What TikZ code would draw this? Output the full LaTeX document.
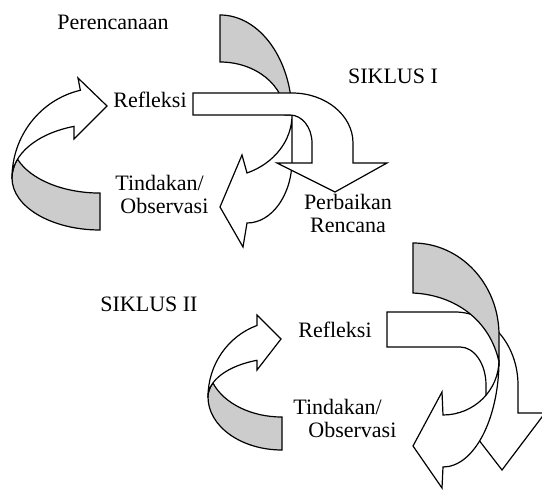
\documentclass[tikz,border=0pt]{standalone}
\usepackage{fontspec}
\setmainfont{Liberation Serif}
\usepackage{tikz}
\usetikzlibrary{positioning}
\definecolor{abu}{RGB}{204,204,204}

\tikzset{
  ribbon/.style={draw=black, line width=0.6pt, fill=white, line join=miter},
  backside/.style={ribbon, fill=abu},
  lbl/.style={font=\fontsize{11}{11.5}\selectfont, inner sep=0pt}
}

\begin{document}
\begin{tikzpicture}[x=0.5pt, y=-0.5pt]

    \useasboundingbox (0,0) rectangle (542,491);
    \clip (0,0) rectangle (542,491);

    % Siklus I : panah kiri (menuju Refleksi)
    \draw[backside] (100,230) arc[start angle=90, end angle=180, x radius=88, y radius=52]
        arc[start angle=180, end angle=200.4, x radius=88, y radius=54]
        arc[start angle=159.6, end angle=90, x radius=88, y radius=52] -- cycle;
    \draw[ribbon] (12,178) arc[start angle=180, end angle=257.1, x radius=88, y radius=90]
        -- (78,78) -- (107,106) -- (74,139) -- (74,126.4)
        arc[start angle=252.8, end angle=180, x radius=88, y radius=54] -- cycle;

    % Siklus I : panah Perencanaan -> Tindakan
    \draw[backside] (220,15) arc[start angle=270, end angle=360, x radius=72, y radius=100]
        -- (285,115) arc[start angle=0, end angle=-90, x radius=65, y radius=53] -- cycle;
    \draw[ribbon] (292,115) -- (292,160) arc[start angle=0, end angle=90, x radius=45, y radius=63]
        -- (243,247) -- (220,207) -- (242,155) -- (247,173)
        arc[start angle=68, end angle=0, x radius=72, y radius=62.6] -- cycle;

    % Siklus I : panah Refleksi -> Perbaikan Rencana
    \draw[ribbon] (193,93) -- (292,93) arc[start angle=270, end angle=360, x radius=61, y radius=50]
        -- (353,163) -- (387,163) -- (335,192) -- (277,163) -- (312,163) -- (312,143)
        arc[start angle=0, end angle=-90, x radius=22, y radius=28] -- (193,115) -- cycle;

    % Siklus II : panah kiri (menuju Refleksi)
    \draw[backside] (282,450) arc[start angle=90, end angle=180, x radius=74, y radius=53]
        arc[start angle=180, end angle=201, x radius=74, y radius=39]
        arc[start angle=159, end angle=90, x radius=74, y radius=53] -- cycle;
    \draw[ribbon] (208,397) arc[start angle=180, end angle=250.2, x radius=74, y radius=76]
        -- (257,315) -- (281,339) -- (257,370) -- (256.9,360.3)
        arc[start angle=250.2, end angle=180, x radius=74, y radius=39] -- cycle;

    % Siklus II : panah Refleksi (ke bawah)
    \draw[ribbon] (387,312) -- (455,312) arc[start angle=270, end angle=360, x radius=63, y radius=73]
        -- (518,413) -- (545,413) -- (502,470) -- (458,413) -- (486,413) -- (486,385)
        arc[start angle=0, end angle=-90, x radius=26, y radius=38] -- (387,347) -- cycle;

    % Siklus II : panah tindakan
    \draw[backside] (413,243) arc[start angle=270, end angle=360, x radius=86, y radius=92]
        -- (499,362) .. controls (490,320) and (455,295) .. (413,293) -- cycle;
    \draw[ribbon] (499,360) arc[start angle=0, end angle=90, x radius=56, y radius=107]
        -- (442,488) -- (413,446) -- (442,392) -- (443,415)
        arc[start angle=90, end angle=0, x radius=56, y radius=55] -- cycle;

    % Teks
    \node[lbl] (rencana1) at (113,22) {Perencanaan};
    \node[lbl] (siklus1) at (393,76) {SIKLUS I};
    \node[lbl] (refleksi1) at (150,100) {Refleksi};
    \node[lbl, align=left, anchor=west] (tindakan1) at (115,194) {Tindakan/\\\hspace*{2.5pt}Observasi};
    \node[lbl, align=center] (perbaikan) at (348,213) {Perbaikan\\Rencana};

    \node[lbl] (siklus2) at (149,304) {SIKLUS II};
    \node[lbl] (refleksi2) at (335,330) {Refleksi};
    \node[lbl, align=left, anchor=west] (tindakan2) at (293,418) {Tindakan/\\\hspace*{7.5pt}Observasi};

\end{tikzpicture}
\end{document}
